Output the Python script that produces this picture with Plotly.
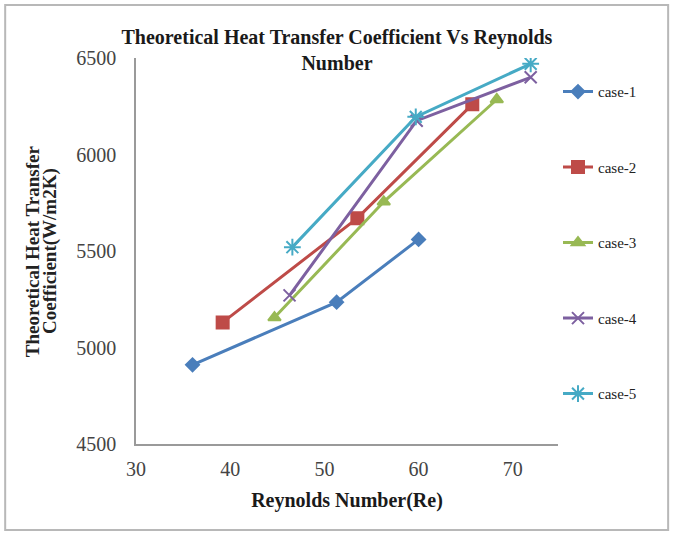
import plotly.graph_objects as go

# Reynolds number and theoretical heat transfer coefficient (W/m2K) per case
case_names = ["case-1", "case-2", "case-3", "case-4", "case-5"]
re_case1 = [36.0, 51.3, 60.0]
h_case1 = [4910, 5235, 5560]
re_case2 = [39.2, 53.5, 65.7]
h_case2 = [5130, 5670, 6260]
re_case3 = [44.7, 56.3, 68.3]
h_case3 = [5155, 5755, 6285]
re_case4 = [46.3, 59.8, 71.9]
h_case4 = [5270, 6175, 6400]
re_case5 = [46.6, 59.7, 71.9]
h_case5 = [5520, 6195, 6470]

x_ticks = [30, 40, 50, 60, 70]
y_ticks = [4500, 5000, 5500, 6000, 6500]
y_title_lines = ["Theoretical Heat Transfer", "Coefficient(W/m2K)"]

colors = ["#4A7EBB", "#BE4B48", "#98B954", "#7D60A0", "#46AAC5"]
symbols = ["diamond", "square", "triangle-up", "x-thin-open", "asterisk-open"]
sizes = [10, 12, 11, 12, 14]

series_x = [re_case1, re_case2, re_case3, re_case4, re_case5]
series_y = [h_case1, h_case2, h_case3, h_case4, h_case5]

serif = "Liberation Serif, Times New Roman, serif"

fig = go.Figure()
for i, name in enumerate(case_names):
    fig.add_trace(go.Scatter(
        x=series_x[i], y=series_y[i], name=name, mode="lines+markers",
        legendgroup=name,
        line=dict(color=colors[i], width=3),
        marker=dict(symbol=symbols[i], size=sizes[i], color=colors[i],
                    line=dict(color=colors[i], width=2)),
    ))

# two-line rotated y-axis title with tight line spacing
y_title_x = [-0.246, -0.204]
annotations = [
    dict(text="<b>%s</b>" % line, xref="paper", yref="paper",
         x=y_title_x[k], y=0.5, xanchor="center", yanchor="middle",
         textangle=-90, showarrow=False,
         font=dict(family=serif, size=19, color="#222222"))
    for k, line in enumerate(y_title_lines)
]

fig.update_layout(
    width=678, height=535,
    margin=dict(l=136, r=120, t=58, b=91),
    paper_bgcolor="white", plot_bgcolor="white",
    title=dict(
        text="<b>Theoretical Heat Transfer Coefficient Vs Reynolds<br>Number</b>",
        x=0.497, xanchor="center", y=1 - 44 / 535, yanchor="middle",
        font=dict(family=serif, size=20, color="#1a1a1a"),
    ),
    showlegend=True,
    legend=dict(
        x=1.0, xanchor="left", y=0.955, yanchor="top",
        font=dict(family=serif, size=15, color="#222222"),
        tracegroupgap=53, bgcolor="rgba(0,0,0,0)",
    ),
    xaxis=dict(
        range=[30, 74.8], tickvals=x_ticks, showgrid=False, zeroline=False,
        showline=True, linecolor="#9a9a9a", linewidth=1.5, ticks="",
        ticklabelstandoff=6,
        tickfont=dict(family=serif, size=20, color="#444444"),
        title=dict(text="<b>Reynolds Number(Re)</b>", standoff=14,
                   font=dict(family=serif, size=20, color="#1a1a1a")),
    ),
    yaxis=dict(
        range=[4500, 6500], tickvals=y_ticks, showgrid=False, zeroline=False,
        showline=True, linecolor="#9a9a9a", linewidth=1.5, ticks="",
        ticklabelstandoff=14,
        tickfont=dict(family=serif, size=20, color="#444444"),
    ),
    annotations=annotations,
    shapes=[dict(
        type="rect", xref="paper", yref="paper",
        x0=-0.31, x1=1.261, y0=-0.223, y1=1.137,
        line=dict(color="#b8b8b8", width=2), fillcolor="rgba(0,0,0,0)",
        layer="below",
    )],
)

fig.write_html("out.html")
